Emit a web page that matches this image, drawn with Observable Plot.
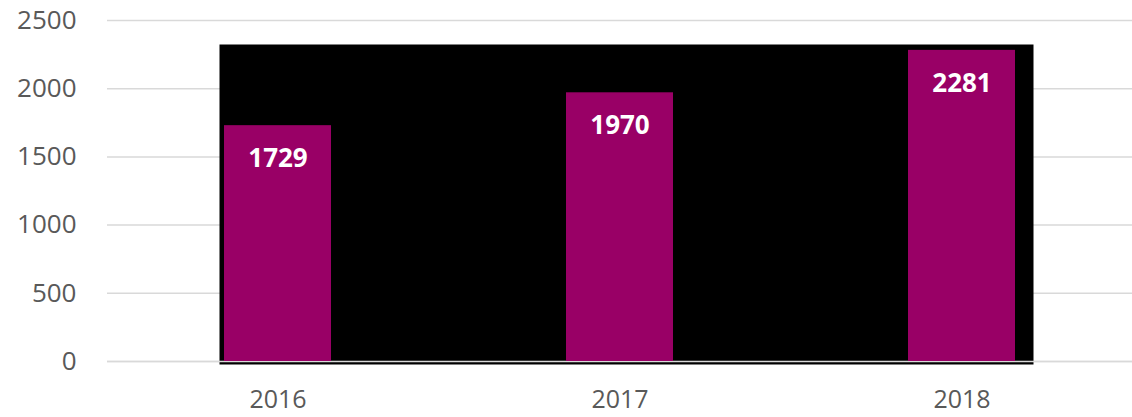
<!DOCTYPE html>
<html>
<head>
<meta charset="utf-8">
<script src="https://cdn.jsdelivr.net/npm/d3@7"></script>
<script src="https://cdn.jsdelivr.net/npm/@observablehq/plot@0.6"></script>
<style>
  html, body { margin: 0; padding: 0; background: #fff; }
  svg { display: block; }
</style>
</head>
<body>
<div id="chart"></div>
<script>
const years = ["2016", "2017", "2018"];
const values = [1729, 1970, 2281];
const yTicks = [0, 500, 1000, 1500, 2000, 2500];

const data = years.map((y, i) => ({year: y, value: values[i]}));

const chart = Plot.plot({
  width: 1132,
  height: 417,
  marginTop: 20,
  marginBottom: 56,
  marginLeft: 107,
  marginRight: 0,
  style: {fontFamily: "'Open Sans', sans-serif", background: "#fff"},
  x: {domain: years, paddingInner: 0.6876, paddingOuter: 0.34, label: null},
  y: {domain: [0, 2500], label: null},
  marks: [
    Plot.gridY(yTicks, {stroke: "#d9d9d9", strokeOpacity: 1, strokeWidth: 1.5}),
    Plot.frame({fill: "black", stroke: null, insetLeft: 112, insetRight: 99, insetTop: 24, insetBottom: -3}),
    Plot.ruleY([0], {stroke: "#d9d9d9", strokeWidth: 1.5}),
    Plot.barY(data, {x: "year", y: "value", fill: "#990066"}),
    Plot.text(data, {x: "year", y: "value", text: d => String(d.value), dy: 33, fill: "white", fontWeight: "bold", fontSize: 26}),
    Plot.axisY({ticks: yTicks, tickFormat: d => String(d), tickSize: 0, tickPadding: 31, fontSize: 26, color: "#595959", label: null}),
    Plot.axisX({tickSize: 0, tickPadding: 29, fontSize: 25, color: "#595959", label: null})
  ]
});
document.getElementById("chart").appendChild(chart);
</script>
</body>
</html>
